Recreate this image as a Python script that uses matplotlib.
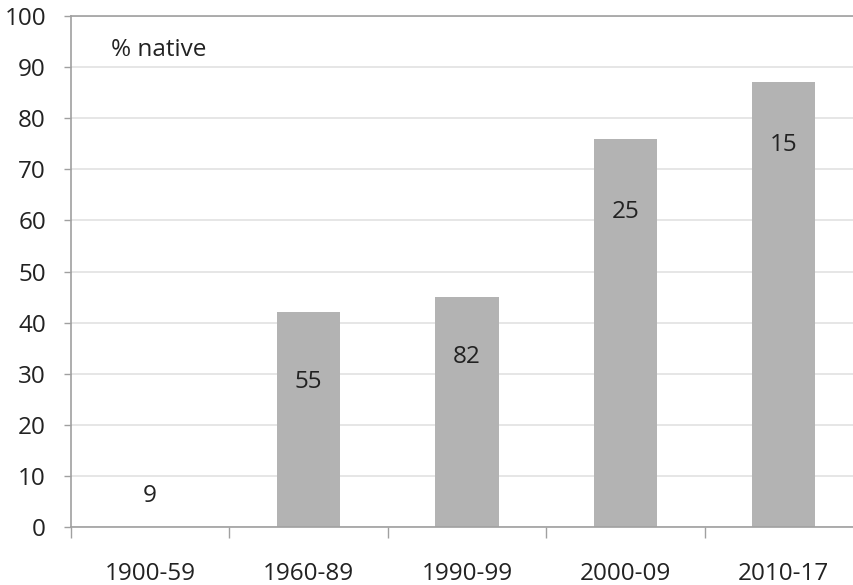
import matplotlib.pyplot as plt

periods = ["1900-59", "1960-89", "1990-99", "2000-09", "2010-17"]
pct_native = [0, 42, 45, 76, 87]
counts = ["9", "55", "82", "25", "15"]
count_y = [6, 28.3, 33.3, 61.6, 74.8]

plt.rcParams["font.family"] = ["Open Sans", "DejaVu Sans"]
fs = 17.5

fig = plt.figure(figsize=(8.54, 5.85), dpi=100)
ax = fig.add_axes([0.0831, 0.0991, 0.9274, 0.8735])

x = list(range(len(periods)))
ax.bar(x, pct_native, width=0.4, color="#b3b3b3", zorder=2)

for xi, c, yi in zip(x, counts, count_y):
    ax.text(xi, yi, c, ha="center", va="center", fontsize=fs, color="#222222", zorder=3)

ax.text(-0.25, 93.3, "% native", fontsize=fs, color="#222222", va="center")

ax.set_xlim(-0.5, 4.5)
ax.set_ylim(0, 100)
ax.set_yticks(range(0, 101, 10))
ax.yaxis.grid(True, color="#e2e2e2", linewidth=1.2, zorder=0)
ax.set_axisbelow(True)

ax.set_xticks(x)
ax.set_xticklabels(periods)
ax.set_xticks([i - 0.5 for i in range(len(periods) + 1)], minor=True)
ax.tick_params(axis="x", which="major", length=0, pad=25, labelsize=fs, labelcolor="#222222")
ax.tick_params(axis="x", which="minor", length=8, width=1, color="#a0a0a0", direction="out")
ax.tick_params(axis="y", length=5, width=1, color="#a0a0a0", pad=13, labelsize=fs, labelcolor="#222222")

for side in ["left", "bottom", "top"]:
    ax.spines[side].set_color("#a0a0a0")
    ax.spines[side].set_linewidth(1.2)
ax.spines["right"].set_visible(False)

fig.savefig("out.png", dpi=100)
